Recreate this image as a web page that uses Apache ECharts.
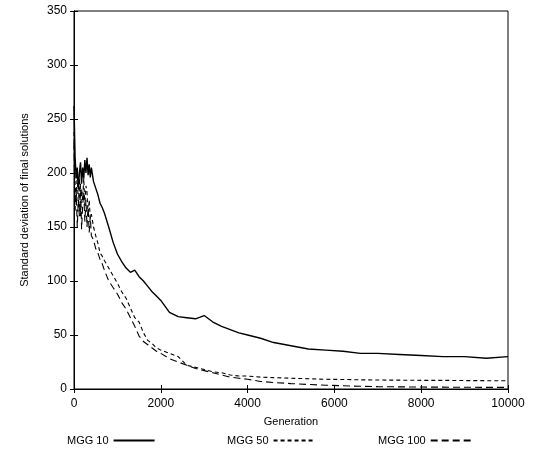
<!DOCTYPE html>
<html><head><meta charset="utf-8">
<script src="https://cdn.jsdelivr.net/npm/echarts@6/dist/echarts.min.js"></script>
<style>html,body{margin:0;padding:0;background:#fff}#c{width:537px;height:456px}</style>
</head><body><div id="c"></div>
<script>
var generations = [0,25,50,75,100,125,150,175,200,225,250,275,300,325,350,375,400,450,500,550,600,650,700,800,900,1000,1100,1200,1300,1400,1500,1600,1700,1800,1900,2000,2200,2400,2600,2800,3000,3200,3400,3600,3800,4000,4300,4600,5000,5400,5800,6200,6600,7000,7500,8000,8500,9000,9500,10000];
var mgg10 = [262,215,195,205,185,200,210,190,205,195,212,200,214,198,208,196,205,192,186,180,172,168,163,150,136,125,118,112,108,110,104,100,95,90,86,82,71,67,66,65,68,62,58,55,52,50,47,43,40,37,36,35,33,33,32,31,30,30,28.5,30];
var mgg50 = [238,190,175,200,168,195,160,185,175,195,170,188,182,160,175,158,162,150,142,135,126,123,119,112,105,98,90,84,75,66,62,52,45,42,38,36,33,30,22,20,18,16,15,13,12,12,11,10.5,10,9.5,9,8.8,8.5,8.3,8.2,8,8,7.8,7.7,7.7];
var mgg100 = [228,165,185,150,175,160,190,148,170,182,155,175,150,168,145,160,142,138,130,126,120,116,110,100,94,88,80,74,66,58,49,44,41,38,35,33,28,25,22,19,17,15,13,11,10,9,7,6,5,4.2,3.5,3,2.5,2.2,2,1.8,1.7,1.6,1.5,1.5];
var seriesNames = ['MGG 10','MGG 50','MGG 100'];

function pairs(vals){ return generations.map(function(g,i){ return [g, vals[i]]; }); }
var font = 'Liberation Sans';
var txt = {fontFamily: font, fontSize: 11, color: '#000'};
var tickTxt = {fontFamily: font, fontSize: 12, color: '#000'};
var legTxt = {fontFamily: font, fontSize: 11, color: '#000'};
var chart = echarts.init(document.getElementById('c'));
var lineStyles = [
  {color:'#000', width:1.4, type:'solid'},
  {color:'#000', width:1.1, type:[4,3]},
  {color:'#000', width:1.1, type:[7,4]}
];
var legLeft = [62, 222, 373];
chart.setOption({
  animation: false,
  backgroundColor: '#fff',
  grid: {left: 74, right: 29, top: 11, bottom: 67, show: true, borderColor: '#000', borderWidth: 1},
  legend: seriesNames.map(function(n, i){
    return {data: [n], left: legLeft[i], top: 430, align: 'right', itemWidth: 41, itemHeight: 10, itemGap: 0,
      textStyle: legTxt, selectedMode: false, itemStyle: {opacity: 0}};
  }),
  xAxis: [{
    type: 'value', min: 0, max: 10000, interval: 2000,
    name: 'Generation', nameLocation: 'middle', nameGap: 27, nameTextStyle: txt,
    axisLine: {show: true, lineStyle: {color: '#000'}},
    axisTick: {show: true, inside: true, length: 4, lineStyle: {color: '#000'}},
    axisLabel: Object.assign({margin: 9, formatter: function(v){ return String(v); }}, tickTxt),
    splitLine: {show: false}
  },{
    type: 'value', min: 0, max: 10000, interval: 2000, position: 'top',
    axisLine: {show: true, lineStyle: {color: '#000'}},
    axisTick: {show: true, inside: true, length: 4, lineStyle: {color: '#000'}},
    axisLabel: {show: false}, splitLine: {show: false}
  }],
  yAxis: [{
    type: 'value', min: 0, max: 350, interval: 50,
    name: 'Standard deviation of final solutions', nameLocation: 'middle', nameGap: 44, nameTextStyle: txt,
    axisLine: {show: true, lineStyle: {color: '#000'}},
    axisTick: {show: true, inside: true, length: 4, lineStyle: {color: '#000'}},
    axisLabel: Object.assign({margin: 7}, tickTxt),
    splitLine: {show: false}
  },{
    type: 'value', min: 0, max: 350, interval: 50, position: 'right',
    axisLine: {show: true, lineStyle: {color: '#000'}},
    axisTick: {show: true, inside: true, length: 4, lineStyle: {color: '#000'}},
    axisLabel: {show: false}, splitLine: {show: false}
  }],
  series: [mgg10, mgg50, mgg100].map(function(v, i){
    return {name: seriesNames[i], type: 'line', data: pairs(v), symbol: 'none', showSymbol: false,
      lineStyle: lineStyles[i], itemStyle: {color: '#000'}};
  })
});
</script></body></html>
